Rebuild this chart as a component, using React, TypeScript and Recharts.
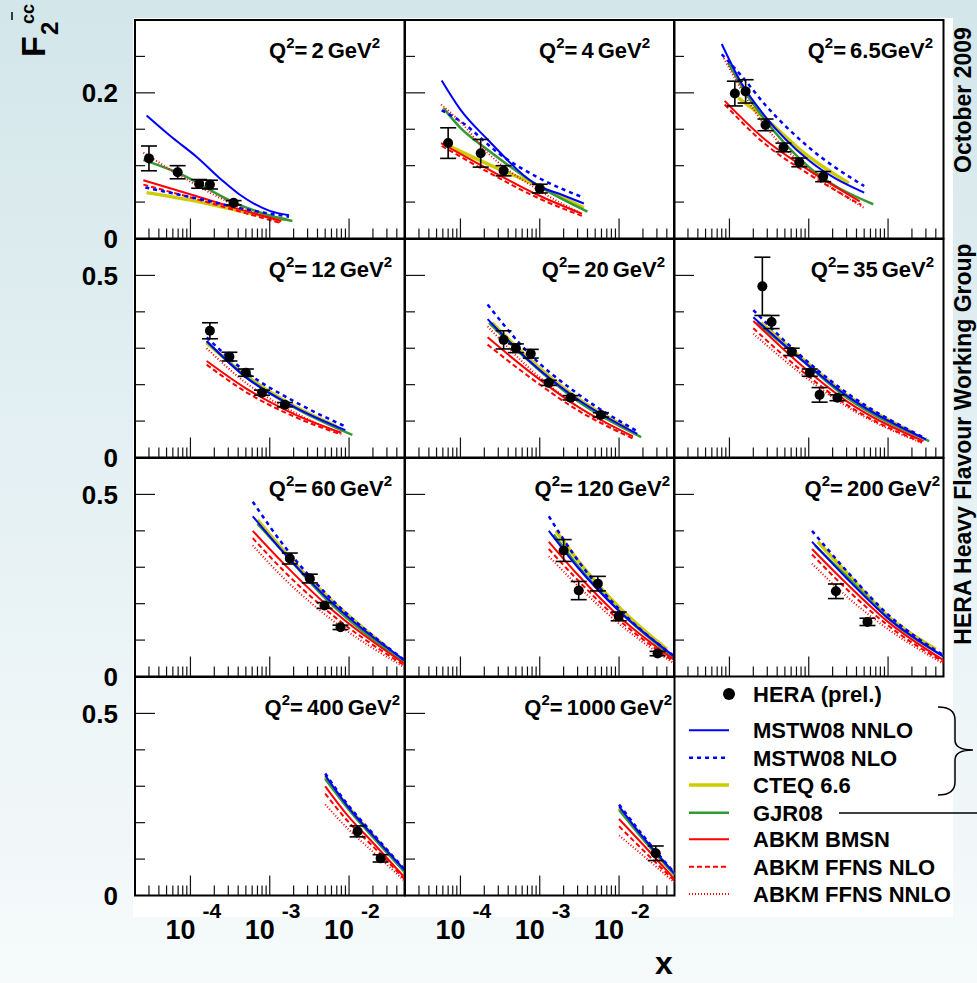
import React from 'react';
import { ComposedChart, Line, Scatter, ErrorBar, XAxis, YAxis, ReferenceArea } from 'recharts';

const FONT = '"Liberation Sans", Arial, Helvetica, sans-serif';

// ---------------- data ----------------
const Q2_VALUES = ['2', '4', '6.5', '12', '20', '35', '60', '120', '200', '400', '1000'];
const Q2_GAP_BEFORE_UNIT = [true, true, false, true, true, true, true, true, true, true, true];

const MSTW08_NNLO: number[][][] = [
  [[2.8e-5, 0.169], [6e-5, 0.138], [1.2e-4, 0.112], [2.5e-4, 0.08], [4.2e-4, 0.06], [1e-3, 0.038], [1.75e-3, 0.032]],
  [[5.8e-5, 0.217], [1e-4, 0.177], [2.2e-4, 0.136], [9.8e-4, 0.072], [1.9e-3, 0.06], [3.6e-3, 0.048]],
  [[8e-5, 0.267], [1.42e-4, 0.213], [2.8e-4, 0.168], [9.8e-4, 0.108], [5e-3, 0.063]],
  [[1.6e-4, 0.32], [5e-4, 0.22], [2e-3, 0.14], [9e-3, 0.075]],
  [[2.2e-4, 0.38], [7e-4, 0.27], [3e-3, 0.16], [1.7e-2, 0.065]],
  [[2e-4, 0.385], [7e-4, 0.28], [3e-3, 0.17], [3e-2, 0.05]],
  [[6.1e-4, 0.44], [1.5e-3, 0.34], [5e-3, 0.22], [5e-2, 0.045]],
  [[1.3e-3, 0.4], [3e-3, 0.3], [1e-2, 0.18], [5e-2, 0.055]],
  [[1.1e-3, 0.37], [3e-3, 0.27], [1e-2, 0.16], [5e-2, 0.055]],
  [[5e-3, 0.33], [1e-2, 0.24], [2e-2, 0.165], [5e-2, 0.07]],
  [[1e-2, 0.245], [2e-2, 0.16], [5e-2, 0.06]],
];
const MSTW08_NLO: number[][][] = [
  [[2.7e-5, 0.07], [1.76e-4, 0.051], [5e-4, 0.04], [1.75e-3, 0.03]],
  [[5.8e-5, 0.176], [1e-4, 0.161], [3.2e-4, 0.115], [9.8e-4, 0.083], [3.6e-3, 0.056]],
  [[8e-5, 0.253], [1.4e-4, 0.224], [2.8e-4, 0.184], [9.8e-4, 0.126], [5e-3, 0.072]],
  [[1.6e-4, 0.33], [5e-4, 0.235], [2e-3, 0.155], [9e-3, 0.085]],
  [[2.2e-4, 0.42], [7e-4, 0.29], [3e-3, 0.175], [1.7e-2, 0.072]],
  [[2e-4, 0.405], [7e-4, 0.29], [3e-3, 0.178], [3e-2, 0.052]],
  [[6.1e-4, 0.48], [1.5e-3, 0.36], [5e-3, 0.23], [5e-2, 0.045]],
  [[1.3e-3, 0.44], [3e-3, 0.32], [1e-2, 0.185], [5e-2, 0.055]],
  [[1.1e-3, 0.4], [3e-3, 0.29], [1e-2, 0.17], [5e-2, 0.058]],
  [[5e-3, 0.335], [1e-2, 0.245], [2e-2, 0.17], [5e-2, 0.072]],
  [[1e-2, 0.25], [2e-2, 0.165], [5e-2, 0.062]],
];
const CTEQ66: number[][][] = [
  [[2.8e-5, 0.063], [1.2e-4, 0.051], [5e-4, 0.036], [1.6e-3, 0.026]],
  [[6e-5, 0.131], [3.2e-4, 0.0945], [9.8e-4, 0.072], [3.6e-3, 0.042]],
  [[1.29e-4, 0.193], [2.8e-4, 0.165], [9.8e-4, 0.113], [3.2e-3, 0.076]],
  [[1.6e-4, 0.315], [5e-4, 0.225], [2e-3, 0.142], [7e-3, 0.085]],
  [[2.5e-4, 0.37], [7e-4, 0.275], [3e-3, 0.162], [1.3e-2, 0.08]],
  [[2.5e-4, 0.37], [7e-4, 0.285], [3e-3, 0.172], [2e-2, 0.07]],
  [[7e-4, 0.43], [1.5e-3, 0.345], [5e-3, 0.225], [3e-2, 0.08]],
  [[1.6e-3, 0.4], [3e-3, 0.32], [1e-2, 0.19], [4e-2, 0.075]],
  [[1.3e-3, 0.37], [3e-3, 0.285], [1e-2, 0.165], [4e-2, 0.075]],
  [[5e-3, 0.325], [1e-2, 0.24], [2e-2, 0.165], [5e-2, 0.068]],
  [[1e-2, 0.24], [2e-2, 0.158], [5e-2, 0.058]],
];
const GJR08: number[][][] = [
  [[2.55e-5, 0.108], [7e-5, 0.09], [3.45e-4, 0.05], [1e-3, 0.0315], [1.93e-3, 0.024]],
  [[6.1e-5, 0.179], [1e-4, 0.152], [2.2e-4, 0.122], [9.8e-4, 0.072], [4e-3, 0.037]],
  [[9.7e-5, 0.241], [1.72e-4, 0.195], [2.8e-4, 0.163], [9.8e-4, 0.099], [6.5e-3, 0.047]],
  [[1.6e-4, 0.318], [5e-4, 0.222], [2e-3, 0.138], [1.1e-2, 0.062]],
  [[2.3e-4, 0.37], [7e-4, 0.268], [3e-3, 0.155], [1.9e-2, 0.056]],
  [[2.2e-4, 0.37], [7e-4, 0.28], [3e-3, 0.165], [3.3e-2, 0.045]],
  [[7e-4, 0.42], [1.5e-3, 0.34], [5e-3, 0.215], [5e-2, 0.04]],
  [[1.5e-3, 0.39], [3e-3, 0.305], [1e-2, 0.18], [5e-2, 0.05]],
  [[1.2e-3, 0.36], [3e-3, 0.275], [1e-2, 0.16], [5e-2, 0.055]],
  [[5e-3, 0.32], [1e-2, 0.235], [2e-2, 0.16], [5e-2, 0.065]],
  [[1e-2, 0.235], [2e-2, 0.155], [5e-2, 0.057]],
];
const ABKM_BMSN: number[][][] = [
  [[2.55e-5, 0.08], [1.2e-4, 0.058], [4.2e-4, 0.04], [1.4e-3, 0.024]],
  [[5.7e-5, 0.131], [1.93e-4, 0.099], [9.8e-4, 0.059], [3.4e-3, 0.034]],
  [[8.7e-5, 0.189], [2.8e-4, 0.136], [9.8e-4, 0.0945], [4.4e-3, 0.051]],
  [[1.6e-4, 0.265], [5e-4, 0.19], [2e-3, 0.12], [8e-3, 0.068]],
  [[2.2e-4, 0.33], [7e-4, 0.24], [3e-3, 0.14], [1.5e-2, 0.058]],
  [[2e-4, 0.375], [7e-4, 0.265], [3e-3, 0.155], [2.8e-2, 0.045]],
  [[6.1e-4, 0.4], [1.5e-3, 0.31], [5e-3, 0.2], [5e-2, 0.035]],
  [[1.3e-3, 0.37], [3e-3, 0.28], [1e-2, 0.165], [5e-2, 0.045]],
  [[1.1e-3, 0.35], [3e-3, 0.255], [1e-2, 0.15], [5e-2, 0.045]],
  [[5e-3, 0.3], [1e-2, 0.215], [2e-2, 0.145], [5e-2, 0.05]],
  [[1e-2, 0.21], [2e-2, 0.14], [5e-2, 0.045]],
];
const ABKM_FFNS_NLO: number[][][] = [
  [[2.55e-5, 0.074], [1.2e-4, 0.054], [4.2e-4, 0.037], [1.4e-3, 0.021]],
  [[5.8e-5, 0.127], [2e-4, 0.094], [9.8e-4, 0.055], [3.4e-3, 0.031]],
  [[8.7e-5, 0.184], [2.8e-4, 0.13], [9.8e-4, 0.089], [4.6e-3, 0.046]],
  [[1.6e-4, 0.255], [5e-4, 0.18], [2e-3, 0.113], [8e-3, 0.063]],
  [[2.2e-4, 0.31], [7e-4, 0.225], [3e-3, 0.13], [1.5e-2, 0.052]],
  [[2e-4, 0.355], [7e-4, 0.25], [3e-3, 0.145], [2.8e-2, 0.04]],
  [[6.1e-4, 0.38], [1.5e-3, 0.29], [5e-3, 0.185], [5e-2, 0.03]],
  [[1.3e-3, 0.35], [3e-3, 0.265], [1e-2, 0.155], [5e-2, 0.04]],
  [[1.1e-3, 0.335], [3e-3, 0.24], [1e-2, 0.14], [5e-2, 0.04]],
  [[5e-3, 0.28], [1e-2, 0.2], [2e-2, 0.135], [5e-2, 0.045]],
  [[1e-2, 0.19], [2e-2, 0.125], [5e-2, 0.04]],
];
const ABKM_FFNS_NNLO: number[][][] = [
  [[2.55e-5, 0.118], [7e-5, 0.088], [3.45e-4, 0.047], [1.4e-3, 0.022]],
  [[5.7e-5, 0.184], [1e-4, 0.16], [2.2e-4, 0.118], [9.8e-4, 0.066], [3.4e-3, 0.034]],
  [[8.5e-5, 0.2475], [1.7e-4, 0.19], [2.8e-4, 0.155], [9.8e-4, 0.095], [5e-3, 0.042]],
  [[1.6e-4, 0.3], [5e-4, 0.205], [2e-3, 0.125], [8e-3, 0.065]],
  [[2.2e-4, 0.36], [7e-4, 0.25], [3e-3, 0.14], [1.5e-2, 0.055]],
  [[2e-4, 0.34], [7e-4, 0.24], [3e-3, 0.14], [2.8e-2, 0.038]],
  [[6.1e-4, 0.36], [1.5e-3, 0.27], [5e-3, 0.17], [5e-2, 0.025]],
  [[1.3e-3, 0.33], [3e-3, 0.25], [1e-2, 0.145], [5e-2, 0.035]],
  [[1.1e-3, 0.31], [3e-3, 0.22], [1e-2, 0.13], [5e-2, 0.035]],
  [[5e-3, 0.25], [1e-2, 0.18], [2e-2, 0.12], [5e-2, 0.04]],
  [[1e-2, 0.165], [2e-2, 0.11], [5e-2, 0.035]],
];

const HERA_X: number[][] = [
  [3e-5, 6.9e-5, 1.29e-4, 1.76e-4, 3.5e-4],
  [7e-5, 1.8e-4, 3.5e-4, 1e-3],
  [1.17e-4, 1.6e-4, 2.85e-4, 4.8e-4, 7.6e-4, 1.52e-3],
  [1.76e-4, 3.1e-4, 5e-4, 8e-4, 1.55e-3],
  [3.5e-4, 5e-4, 7.7e-4, 1.3e-3, 2.45e-3, 5.9e-3],
  [2.6e-4, 3.4e-4, 6.1e-4, 1.03e-3, 1.37e-3, 2.3e-3],
  [1.79e-3, 3.2e-3, 4.9e-3, 7.8e-3],
  [2e-3, 3.1e-3, 5.4e-3, 9.9e-3, 3.06e-2],
  [2.2e-3, 5.5e-3],
  [1.28e-2, 2.5e-2],
  [2.9e-2],
];
const HERA_Y: number[][] = [
  [0.11, 0.091, 0.075, 0.074, 0.049],
  [0.131, 0.117, 0.093, 0.0685],
  [0.199, 0.202, 0.156, 0.125, 0.1045, 0.085],
  [0.348, 0.277, 0.233, 0.178, 0.145],
  [0.323, 0.3, 0.285, 0.205, 0.164, 0.117],
  [0.47, 0.372, 0.29, 0.233, 0.172, 0.164],
  [0.324, 0.269, 0.195, 0.135],
  [0.346, 0.236, 0.255, 0.165, 0.063],
  [0.234, 0.15],
  [0.176, 0.102],
  [0.116],
];
const HERA_ERR: number[][] = [
  [0.017, 0.009, 0.006, 0.006, 0.003],
  [0.021, 0.019, 0.007, 0.006],
  [0.017, 0.016, 0.008, 0.006, 0.006, 0.007],
  [0.022, 0.012, 0.01, 0.007, 0.006],
  [0.025, 0.012, 0.012, 0.007, 0.006, 0.006],
  [0.08, 0.018, 0.01, 0.01, 0.02, 0.008],
  [0.015, 0.012, 0.008, 0.006],
  [0.03, 0.025, 0.02, 0.012, 0.006],
  [0.02, 0.01],
  [0.015, 0.01],
  [0.02],
];

const X_TICKS = [
  3e-5, 4e-5, 5e-5, 6e-5, 7e-5, 8e-5, 9e-5,
  1e-4, 2e-4, 3e-4, 4e-4, 5e-4, 6e-4, 7e-4, 8e-4, 9e-4,
  1e-3, 2e-3, 3e-3, 4e-3, 5e-3, 6e-3, 7e-3, 8e-3, 9e-3,
  1e-2, 2e-2, 3e-2, 4e-2,
];
const Y_TICKS_TOP = [0, 0.05, 0.1, 0.15, 0.2, 0.25];
const Y_TICKS = [0, 0.1, 0.2, 0.3, 0.4, 0.5];

// ---------------- styling ----------------
const MODELS = [
  { name: 'CTEQ 6.6', data: CTEQ66, color: '#cccc00', width: 3.5, dash: undefined as string | undefined },
  { name: 'GJR08', data: GJR08, color: '#339933', width: 2.5, dash: undefined },
  { name: 'ABKM BMSN', data: ABKM_BMSN, color: '#ff0000', width: 2, dash: undefined },
  { name: 'ABKM FFNS NLO', data: ABKM_FFNS_NLO, color: '#ff0000', width: 2, dash: '5 3' },
  { name: 'ABKM FFNS NNLO', data: ABKM_FFNS_NNLO, color: '#ff0000', width: 2, dash: '1 2' },
  { name: 'MSTW08 NLO', data: MSTW08_NLO, color: '#0000ff', width: 2.5, dash: '4 4' },
  { name: 'MSTW08 NNLO', data: MSTW08_NNLO, color: '#0000ff', width: 2, dash: undefined },
];
const LEGEND_ORDER = ['MSTW08 NNLO', 'MSTW08 NLO', 'CTEQ 6.6', 'GJR08', 'ABKM BMSN', 'ABKM FFNS NLO', 'ABKM FFNS NNLO'];

const X_MIN = 2e-5;
const X_MAX = 5e-2;
const COL_LEFT = [135, 404.5, 674];
const ROW_TOP = [20, 239, 457.5, 676.5];
const PW = 269.5;
const PH = 218.5;
// axes take 1px each, so plot area starts at (100, 10)
const M = { top: 10, right: 10, bottom: 59, left: 99 };
const Q2_RIGHT = [380, 650, 933, 392, 665, 934, 392, 670, 940, 400, 672];

const XTick = (props: any) => {
  const { x, y, payload, showLabel } = props;
  const v = payload.value as number;
  const lg = Math.log10(v);
  const major = Math.abs(lg - Math.round(lg)) < 1e-6;
  const len = major ? 20 : 10;
  return (
    <g>
      <line x1={x} y1={y} x2={x} y2={y - len} stroke="#111" strokeWidth={1.2} />
      {major && showLabel && (
        <g fontFamily={FONT} fontWeight="bold" fill="#000">
          <text x={x + 5} y={y + 43} fontSize={27} textAnchor="end">10</text>
          <text x={x + 12} y={y + 22} fontSize={21} textAnchor="start">{String(Math.round(lg))}</text>
        </g>
      )}
    </g>
  );
};

const YTick = (props: any) => {
  const { x, y, payload, showLabel, labelled } = props;
  const v = payload.value as number;
  const isLab = Math.abs(v - labelled) < 1e-9;
  const len = isLab ? 20 : 10;
  return (
    <g>
      {v !== 0 && <line x1={x} y1={y} x2={x + len} y2={y} stroke="#111" strokeWidth={1.2} />}
      {showLabel && (v === 0 || isLab) && (
        <text x={x - 17} y={y} dy="0.36em" textAnchor="end" fontFamily={FONT} fontWeight="bold" fontSize={26} fill="#000">
          {String(v)}
        </text>
      )}
    </g>
  );
};

const Dot = (p: any) => <circle cx={p.cx} cy={p.cy} r={5} fill="#000" />;

function Panel({ i }: { i: number }) {
  const col = i % 3;
  const row = Math.floor(i / 3);
  const ymax = row === 0 ? 0.3 : 0.6;
  const yTicks = row === 0 ? Y_TICKS_TOP : Y_TICKS;
  const labelled = row === 0 ? 0.2 : 0.5;
  const hera = HERA_X[i].map((x, k) => ({ x, y: HERA_Y[i][k], err: HERA_ERR[i][k] }));
  return (
    <div style={{ position: 'absolute', left: COL_LEFT[col] - 100, top: ROW_TOP[row] - 10 }}>
      <ComposedChart width={PW + 100 + M.right} height={PH + 10 + 60} margin={M}>
        <XAxis
          type="number"
          dataKey="x"
          scale="log"
          domain={[X_MIN, X_MAX]}
          allowDataOverflow
          ticks={X_TICKS}
          interval={0}
          height={1}
          tickSize={0}
          tickMargin={0}
          axisLine={false}
          tickLine={false}
          tick={(p: any) => <XTick {...p} showLabel={row === 3} />}
        />
        <YAxis
          type="number"
          domain={[0, ymax]}
          allowDataOverflow
          ticks={yTicks}
          interval={0}
          width={1}
          tickSize={0}
          tickMargin={0}
          axisLine={false}
          tickLine={false}
          tick={(p: any) => <YTick {...p} showLabel={col === 0} labelled={labelled} />}
        />
        <ReferenceArea
          x1={X_MIN}
          x2={X_MAX}
          y1={0}
          y2={ymax}
          fill="#ffffff"
          fillOpacity={0}
          stroke="#000"
          strokeWidth={2}
          strokeOpacity={1}
          ifOverflow="visible"
        />
        {MODELS.map((m) => (
          <Line
            key={m.name}
            data={m.data[i].map(([x, y]) => ({ x, y }))}
            dataKey="y"
            type="monotone"
            stroke={m.color}
            strokeWidth={m.width}
            strokeDasharray={m.dash}
            dot={false}
            activeDot={false}
            isAnimationActive={false}
          />
        ))}
        <Scatter data={hera} dataKey="y" fill="#000" shape={Dot} isAnimationActive={false}>
          <ErrorBar dataKey="err" direction="y" width={8} stroke="#000" strokeWidth={1.6} isAnimationActive={false} />
        </Scatter>
      </ComposedChart>
    </div>
  );
}

function Overlay() {
  const rowBase = [58, 277, 496, 715];
  const legendY = [730.3, 757.7, 785, 812.7, 839.3, 866.7, 894];
  return (
    <svg width={977} height={983} style={{ position: 'absolute', left: 0, top: 0, pointerEvents: 'none' }}>
      <g fontFamily={FONT} fontWeight="bold" fill="#000">
        {Q2_VALUES.map((q, i) => {
          const row = Math.floor(i / 3);
          return (
            <text key={q} x={Q2_RIGHT[i]} y={rowBase[row]} textAnchor="end" fontSize={22}>
              Q<tspan dy={-10} fontSize={15}>2</tspan>
              <tspan dy={10}>=</tspan>
              <tspan dx={4}>{q}</tspan>
              <tspan dx={Q2_GAP_BEFORE_UNIT[i] ? 4 : 0}>GeV</tspan>
              <tspan dy={-10} fontSize={15}>2</tspan>
            </text>
          );
        })}

        {/* legend */}
        <circle cx={729} cy={694} r={6} fill="#000" />
        <text x={753} y={702} fontSize={22}>HERA (prel.)</text>
        {LEGEND_ORDER.map((name, k) => {
          const m = MODELS.find((mm) => mm.name === name)!;
          return (
            <g key={name}>
              <line x1={689} x2={729} y1={legendY[k]} y2={legendY[k]} stroke={m.color} strokeWidth={m.width} strokeDasharray={m.dash} />
              <text x={753} y={legendY[k] + 8} fontSize={22}>{name}</text>
            </g>
          );
        })}
        <path d="M 938 707 Q 955 707 955 720 L 955 740 Q 955 750 973 750 Q 955 750 955 760 L 955 782 Q 955 795 938 795" fill="none" stroke="#000" strokeWidth={1.5} />
        <line x1={839} y1={813} x2={977} y2={813} stroke="#000" strokeWidth={1.5} />

        {/* right side texts */}
        <text transform="translate(971,100) rotate(-90)" textAnchor="middle" fontSize={23}>October 2009</text>
        <text transform="translate(971,444) rotate(-90)" textAnchor="middle" fontSize={23}>HERA Heavy Flavour Working Group</text>

        {/* y title */}
        <g transform="translate(45,57) rotate(-90)">
          <text x={0} y={0} fontSize={34}>F</text>
          <text x={22} y={13} fontSize={24}>2</text>
          <text x={33} y={-11} fontSize={18}>cc</text>
        </g>
        <line x1={12} y1={12} x2={12} y2={20} stroke="#000" strokeWidth={1.5} />

        {/* x title */}
        <text x={664} y={974} textAnchor="middle" fontSize={32}>x</text>
      </g>
    </svg>
  );
}

export default function App() {
  return (
    <div
      style={{
        position: 'absolute',
        left: 0,
        top: 0,
        width: 977,
        height: 983,
        overflow: 'hidden',
        background: 'linear-gradient(180deg, #d3e6ea 0%, #e4f0f3 45%, #f6fafb 100%)',
      }}
    >
      <div style={{ position: 'absolute', left: 133, top: 18, width: 820, height: 899, background: '#ffffff' }} />
      {Array.from({ length: 11 }, (_, i) => (
        <Panel key={i} i={i} />
      ))}
      <Overlay />
    </div>
  );
}
